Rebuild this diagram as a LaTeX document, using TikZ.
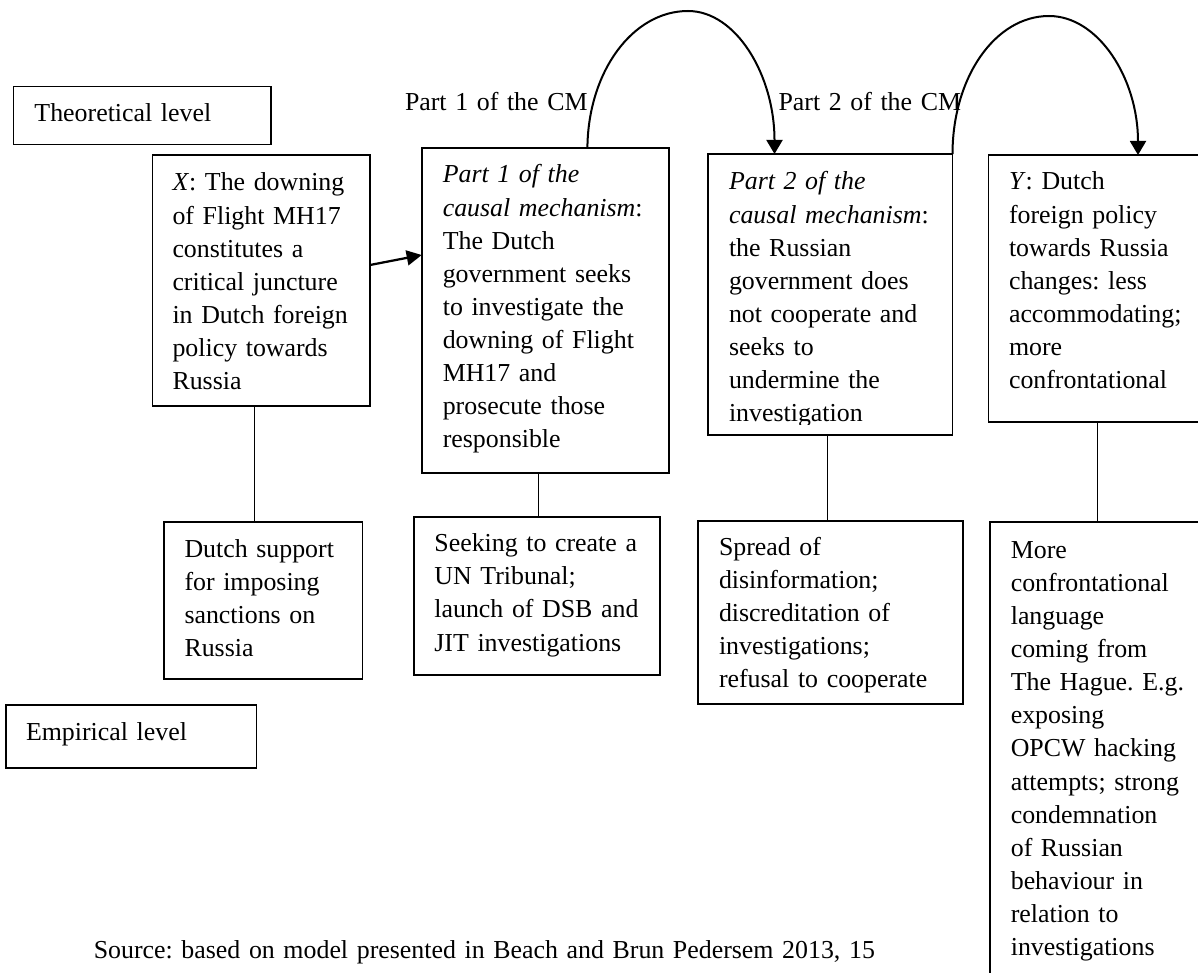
\documentclass[tikz,border=0pt]{standalone}
\usepackage{fontspec}
\setmainfont{Liberation Serif}
\usetikzlibrary{arrows.meta}
\begin{document}
\frenchspacing
\begin{tikzpicture}[x=0.4pt,y=-0.4pt,
  box/.style={draw, line width=0.7pt, inner sep=0pt, outer sep=0pt, anchor=north west},
  txt/.style={anchor=base west, inner sep=0pt, outer sep=0pt, align=left, text width=104pt,
              font=\fontsize{10.35pt}{13.24pt}\selectfont},
  conn/.style={line width=0.4pt},
  curvy/.style={line width=0.8pt, -{Triangle[length=5.6pt,width=6.4pt]}},
  straight/.style={line width=0.9pt, -{Triangle[length=6pt,width=6pt]}}]
\useasboundingbox (0,0) rectangle (1198,972);
\fill[white] (0,0) rectangle (1198,972);
\clip (0,0) rectangle (1198,972);

% boxes
\node[box, minimum width=103.16pt, minimum height=23.2pt]  (theo) at (13.4,86.5)  {};
\node[box, minimum width=87pt,     minimum height=100.4pt] (X)    at (152.5,155)  {};
\node[box, minimum width=98.8pt,   minimum height=130.12pt](P1)   at (421.7,148)  {};
\node[box, minimum width=97.68pt,  minimum height=112.4pt] (P2)   at (708.3,154)  {};
\node[box, minimum width=92pt,     minimum height=106.68pt](Y)    at (988.5,155)  {};
\node[box, minimum width=79.44pt,  minimum height=62.68pt] (DS)   at (163.8,522.3){};
\node[box, minimum width=98.64pt,  minimum height=63.2pt]  (SK)   at (413.7,516.7){};
\node[box, minimum width=105.76pt, minimum height=73.44pt] (SP)   at (698.3,520.7){};
\node[box, minimum width=92pt,     minimum height=192pt]   (MO)   at (989.8,522.3){};
\node[box, minimum width=100.28pt, minimum height=25.08pt] (EM)   at (5.7,705)    {};

% texts
\node[txt] (theot) at (34.5,122) {Theoretical level};
\node[txt] (Xt) at (172.5,191) {\textit{X}: The downing\\of Flight MH17\\constitutes a\\critical juncture\\in Dutch foreign\\policy towards\\Russia};
\node[txt] (P1t) at (442.8,183) {\textit{Part 1 of the}\\\textit{causal mechanism}:\\The Dutch\\government seeks\\to investigate the\\downing of Flight\\MH17 and\\prosecute those\\responsible};
\begin{scope}
\clip (700,140) rectangle (960,424);
\node[txt] (P2t) at (729,190) {\textit{Part 2 of the}\\\textit{causal mechanism}:\\the Russian\\government does\\not cooperate and\\seeks to\\undermine the\\investigation};
\end{scope}
\node[txt] (Yt) at (1009,190) {\textit{Y}: Dutch\\foreign policy\\towards Russia\\changes: less\\accommodating;\\more\\confrontational};
\node[txt] (DSt) at (184.5,557.3) {Dutch support\\for imposing\\sanctions on\\Russia};
\node[txt] (SKt) at (434.4,551.7) {Seeking to create a\\UN Tribunal;\\launch of DSB and\\JIT investigations};
\node[txt] (SPt) at (719,555) {Spread of\\disinformation;\\discreditation of\\investigations;\\refusal to cooperate};
\node[txt] (MOt) at (1010.8,558.3) {More\\confrontational\\language\\coming from\\The Hague. E.g.\\exposing\\OPCW hacking\\attempts; strong\\condemnation\\of Russian\\behaviour in\\relation to\\investigations};
\node[txt] (EMt) at (26,740) {Empirical level};
\node[txt] (lab1) at (405,111) {Part 1 of the CM};
\node[txt] (lab2) at (778.5,111) {Part 2 of the CM};
\node[txt, text width=360pt] (src) at (93.8,958) {Source: based on model presented in Beach and Brun Pedersem 2013, 15};

% connectors
\draw[conn] (X.south -| 254.3,0) -- (DS.north -| 254.3,0);
\draw[conn] (P1.south -| 538.5,0) -- (SK.north -| 538.5,0);
\draw[conn] (P2.south -| 827,0) -- (SP.north -| 827,0);
\draw[conn] (Y.south -| 1097,0) -- (MO.north -| 1097,0);

\draw[straight] (X.east |- 0,265) -- (P1.west |- 0,255);

\draw[curvy] (P1.north -| 587.4,0) .. controls (588,72.3) and (632.2,11) .. (688,11)
   .. controls (736,11) and (774.5,75) .. (P2.north -| 774.5,0);
\draw[curvy] (P2.north east) .. controls (952.5,77.8) and (994.9,16) .. (1049,16)
   .. controls (1098.2,16) and (1138,78.2) .. (Y.north -| 1138,0);
\end{tikzpicture}
\end{document}
